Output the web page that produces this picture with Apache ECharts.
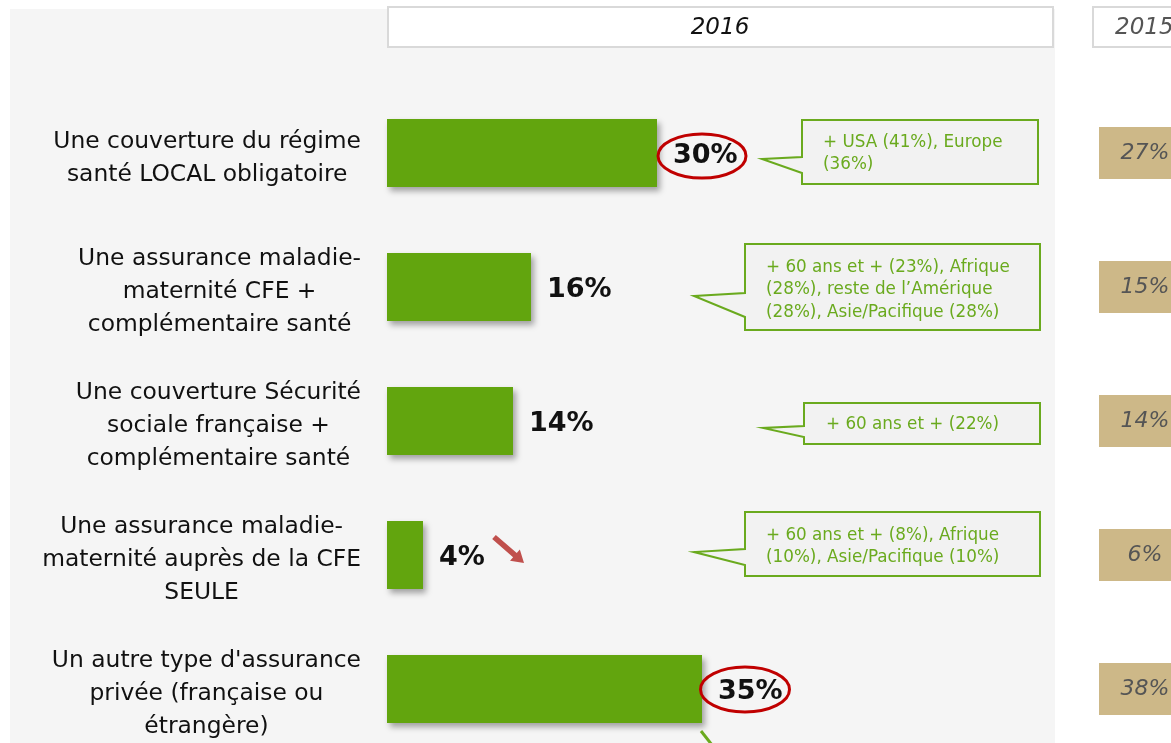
<!DOCTYPE html>
<html>
<head>
<meta charset="utf-8">
<title>Couverture santé</title>
<script src="https://cdn.jsdelivr.net/npm/echarts@6/dist/echarts.min.js"></script>
<style>
    html, body { margin: 0; padding: 0; background: #fff; }
    #chart { width: 1171px; height: 743px; }
</style>
</head>
<body>
<div id="chart"></div>
<script>
// données
var categories = [
    'Une couverture du régime\nsanté LOCAL obligatoire',
    'Une assurance maladie-\nmaternité CFE +\ncomplémentaire santé',
    'Une couverture Sécurité\nsociale française +\ncomplémentaire santé',
    'Une assurance maladie-\nmaternité auprès de la CFE\nSEULE',
    'Un autre type d\'assurance\nprivée (française ou\nétrangère)'
];
var values2016 = [30, 16, 14, 4, 35];
var values2015 = [27, 15, 14, 6, 38];
var notes = [
    '+ USA (41%), Europe\n(36%)',
    '+ 60 ans et + (23%), Afrique\n(28%), reste de l\u2019Amérique\n(28%), Asie/Pacifique (28%)',
    '+ 60 ans et + (22%)',
    '+ 60 ans et + (8%), Afrique\n(10%), Asie/Pacifique (10%)'
];
var years = ['2016', '2015'];

var GREEN = '#62a50e';
var NOTE_GREEN = '#6aaa1e';
var FONT = 'DejaVu Sans';

// bulle de commentaire : rectangle + pointe a gauche
function bubble(x, y, w, h, tipX, tipY, a1, a2, text, tx, ty, lh) {
    return {
        type: 'group',
        z: 5,
        children: [{
            type: 'polygon',
            shape: {
                points: [[x, y], [x + w, y], [x + w, y + h], [x, y + h], [x, a2], [tipX, tipY], [x, a1]]
            },
            style: { fill: '#f2f2f2', stroke: NOTE_GREEN, lineWidth: 2 }
        }, {
            type: 'text',
            x: tx,
            y: ty,
            style: {
                text: text,
                fill: NOTE_GREEN,
                font: '16.8px "' + FONT + '"',
                lineHeight: lh,
                verticalAlign: 'top'
            }
        }]
    };
}

// fleche rouge
function arrow(x1, y1, x2, y2) {
    var dx = x2 - x1, dy = y2 - y1;
    var len = Math.sqrt(dx * dx + dy * dy);
    var ux = dx / len, uy = dy / len, px = -uy, py = ux;
    var bx = x2 - 12 * ux, by = y2 - 12 * uy;
    return {
        type: 'polygon',
        z: 5,
        shape: {
            points: [
                [x1 + 2.8 * px, y1 + 2.8 * py], [bx + 2.8 * px, by + 2.8 * py],
                [bx + 7.5 * px, by + 7.5 * py], [x2, y2],
                [bx - 7.5 * px, by - 7.5 * py], [bx - 2.8 * px, by - 2.8 * py],
                [x1 - 2.8 * px, y1 - 2.8 * py]
            ]
        },
        style: { fill: '#c0504d' }
    };
}

var myChart = echarts.init(document.getElementById('chart'));

var option = {
    animation: false,
    backgroundColor: '#fff',
    grid: { left: 387, top: 86, width: 450, height: 670, outerBoundsMode: 'none', containLabel: false },
    xAxis: { type: 'value', min: 0, max: 50, show: false },
    yAxis: [{
        type: 'category',
        inverse: true,
        data: categories,
        axisLine: { show: false },
        axisTick: { show: false },
        axisLabel: {
            interval: 0,
            margin: 26,
            align: 'right',
            padding: [10, 0, 0, 0],
            formatter: function(v) {
                return v.split('\n').map(function(s) { return '{c|' + s + '}'; }).join('\n');
            },
            rich: {
                c: {
                    align: 'center',
                    fontFamily: FONT,
                    fontSize: 23.4,
                    lineHeight: 33,
                    color: '#111'
                }
            }
        }
    }, {
        type: 'category',
        inverse: true,
        position: 'right',
        data: categories,
        axisLine: { show: false },
        axisTick: { show: false },
        axisLabel: {
            interval: 0,
            margin: 308,
            align: 'center',
            formatter: function(v, i) { return values2015[i] + '%'; },
            backgroundColor: '#cdb888',
            width: 92,
            height: 52,
            lineHeight: 52,
            fontFamily: FONT,
            fontStyle: 'italic',
            fontSize: 22,
            color: '#555'
        }
    }],
    series: [{
        name: years[0],
        type: 'bar',
        data: values2016,
        barWidth: 68,
        itemStyle: {
            color: GREEN,
            shadowBlur: 6,
            shadowOffsetX: 3,
            shadowOffsetY: 4,
            shadowColor: 'rgba(0, 0, 0, 0.35)'
        },
        label: {
            show: true,
            position: 'right',
            distance: 16,
            offset: [0, 3],
            formatter: '{c}%',
            fontFamily: FONT,
            fontWeight: 'bold',
            fontSize: 27,
            color: '#111'
        }
    }],
    graphic: [
        // fond gris
        {
            type: 'rect', z: -10,
            shape: { x: 10, y: 9, width: 1045, height: 734 },
            style: { fill: '#f5f5f5' }
        },
        // en-tetes
        {
            type: 'rect', z: 1,
            shape: { x: 388, y: 7, width: 665, height: 40 },
            style: { fill: '#fff', stroke: '#d9d9d9', lineWidth: 2 }
        },
        {
            type: 'text', z: 2, x: 720, y: 28,
            style: {
                text: years[0], fill: '#111', align: 'center', verticalAlign: 'middle',
                font: 'italic 23px "' + FONT + '"'
            }
        },
        {
            type: 'rect', z: 1,
            shape: { x: 1093, y: 7, width: 100, height: 40 },
            style: { fill: '#fff', stroke: '#d9d9d9', lineWidth: 2 }
        },
        {
            type: 'text', z: 2, x: 1115, y: 28,
            style: {
                text: years[1], fill: '#555', align: 'left', verticalAlign: 'middle',
                font: 'italic 23px "' + FONT + '"'
            }
        },
        // bulles
        bubble(802, 120, 236, 64, 762, 159, 157, 173, notes[0], 823, 132, 22),
        bubble(745, 244, 295, 86, 694, 296, 293, 317, notes[1], 766, 256, 22.5),
        bubble(804, 403, 236, 41, 763, 428, 426, 437, notes[2], 826, 414, 22),
        bubble(745, 512, 295, 64, 694, 552, 549, 565, notes[3], 766, 525, 22),
        // cercles rouges
        {
            type: 'ellipse', z: 6,
            shape: { cx: 702, cy: 156, rx: 44, ry: 22 },
            style: { fill: 'none', stroke: '#c00000', lineWidth: 3 }
        },
        {
            type: 'ellipse', z: 6,
            shape: { cx: 745, cy: 689.5, rx: 44.5, ry: 22.5 },
            style: { fill: 'none', stroke: '#c00000', lineWidth: 3 }
        },
        arrow(494, 537, 524, 563),
        // trait vert vers le bas
        {
            type: 'line', z: 5,
            shape: { x1: 701, y1: 731, x2: 716, y2: 750 },
            style: { stroke: NOTE_GREEN, lineWidth: 3 }
        }
    ]
};

myChart.setOption(option);
</script>
</body>
</html>
